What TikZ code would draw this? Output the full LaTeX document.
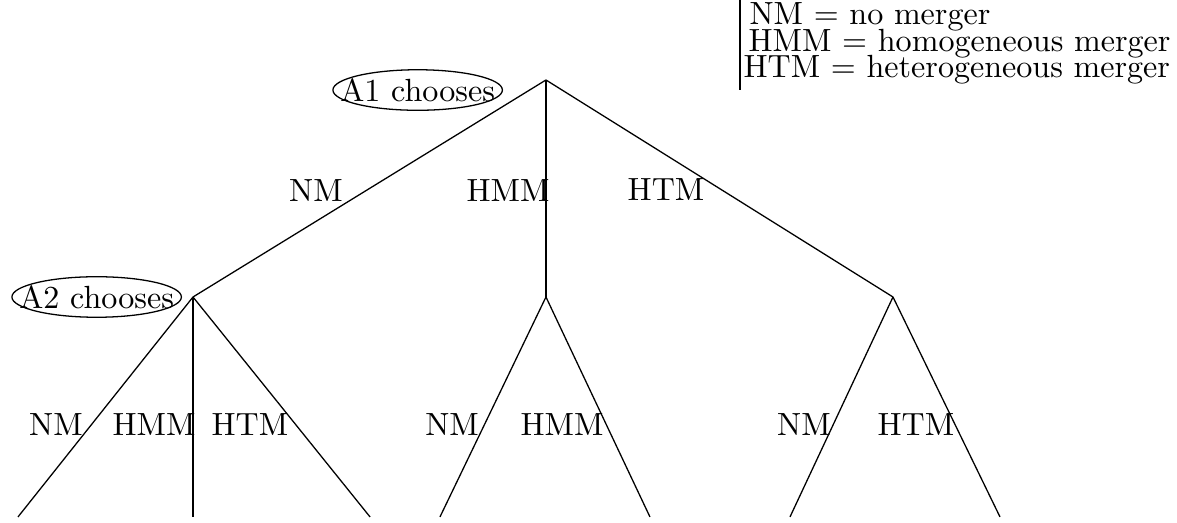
\documentclass[tikz,border=0pt]{standalone}
\usetikzlibrary{shapes.geometric, positioning}

\begin{document}
\begin{tikzpicture}[
            chooser/.style={draw, ellipse, inner xsep=-5.4pt, inner ysep=0.83pt},
            move/.style={anchor=base, inner sep=0pt},
            legend/.style={anchor=base west, inner sep=0pt}
        ]
            \useasboundingbox (0,0) rectangle (12.892,5.728);

            % Decision points
            \coordinate (root) at (5.980,4.852);
            \coordinate (nm) at (2.114,2.475);
            \coordinate (hmm) at (5.980,2.475);
            \coordinate (htm) at (9.781,2.475);

            % Leaves
            \coordinate (nmnm) at (0.197,0.066);
            \coordinate (nmhmm) at (2.114,0.066);
            \coordinate (nmhtm) at (4.053,0.066);
            \coordinate (hmmnm) at (4.819,0.066);
            \coordinate (hmmhmm) at (7.119,0.066);
            \coordinate (htmnm) at (8.653,0.066);
            \coordinate (htmhtm) at (10.953,0.066);

            % Players
            \node[chooser, left=0.47cm of root, yshift=-1.1mm] (a1) {A1 chooses};
            \node[chooser, left=0.12cm of nm] (a2) {A2 chooses};

            % Branches
            \draw (root) -- (nm);
            \draw (root) -- (hmm);
            \draw (root) -- (htm);

            \draw (nm) -- (nmnm);
            \draw (nm) -- (nmhmm);
            \draw (nm) -- (nmhtm);
            \draw (hmm) -- (hmmnm);
            \draw (hmm) -- (hmmhmm);
            \draw (htm) -- (htmnm);
            \draw (htm) -- (htmhtm);

            % Moves
            \node[move] (lnm) at (3.461,3.516) {NM};
            \node[move] (lhmm) at (5.564,3.516) {HMM};
            \node[move] (lhtm) at (7.295,3.527) {HTM};

            \node[move] (lnmnm) at (0.613,0.953) {NM};
            \node[move] (lnmhmm) at (1.687,0.953) {HMM};
            \node[move] (lnmhtm) at (2.738,0.953) {HTM};
            \node[move] (lhmmnm) at (4.951,0.953) {NM};
            \node[move] (lhmmhmm) at (6.156,0.953) {HMM};
            \node[move] (lhtmnm) at (8.806,0.953) {NM};
            \node[move] (lhtmhtm) at (10.033,0.953) {HTM};

            % Legend
            \coordinate (bartop) at (8.105,5.728);
            \coordinate (barbot) at (8.105,4.743);
            \draw (bartop) -- (barbot);
            \node[legend] (leg1) at (8.204,5.455) {NM $=$ no merger};
            \node[legend] (leg2) at (8.193,5.159) {HMM $=$ homogeneous merger};
            \node[legend] (leg3) at (8.138,4.874) {HTM $=$ heterogeneous merger};

        \end{tikzpicture}
\end{document}
